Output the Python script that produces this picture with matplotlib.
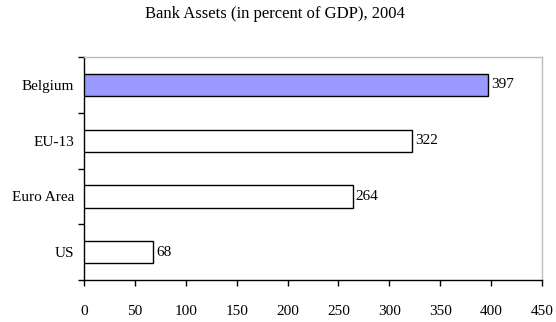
import matplotlib
matplotlib.use("Agg")
import matplotlib.pyplot as plt
import numpy as np

categories = ["US", "Euro Area", "EU-13", "Belgium"]
values = [68, 264, 322, 397]
colors = ["white", "white", "white", "#9999FF"]
xticks = [0, 50, 100, 150, 200, 250, 300, 350, 400, 450]
title = "Bank Assets (in percent of GDP), 2004"

plt.rcParams['font.family'] = ['Liberation Serif', 'DejaVu Serif']

fig = plt.figure(figsize=(5.56, 3.22), dpi=100)
ax = fig.add_axes([0.151, 0.130, 0.824, 0.693])

y = np.arange(len(categories))
ax.barh(y, values, height=0.4, color=colors, edgecolor="black", linewidth=1.0, zorder=3)
for yi, v in zip(y, values):
    ax.text(v + 3, yi, f"{v}", va="center", ha="left", fontsize=11)

ax.set_xlim(0, 450)
ax.set_ylim(-0.5, len(categories) - 0.5)
ax.set_xticks(xticks)
ax.set_xticklabels([str(t) for t in xticks], fontsize=11)
ax.set_yticks(np.arange(-0.5, len(categories), 1.0))
ax.set_yticklabels([])
ax.set_yticks(y, minor=True)
ax.set_yticklabels(categories, minor=True, fontsize=11)
ax.tick_params(axis="y", which="major", direction="out", length=4, width=1)
ax.tick_params(axis="y", which="minor", length=0, pad=7)
ax.tick_params(axis="x", direction="out", length=4, width=1, pad=14)

for s in ["left", "bottom"]:
    ax.spines[s].set_color("black")
    ax.spines[s].set_linewidth(1.0)
for s in ["top", "right"]:
    ax.spines[s].set_color("#BBBBBB")
    ax.spines[s].set_linewidth(1.0)

fig.text(0.495, 0.957, title, ha="center", va="center", fontsize=12)

fig.savefig("out.png", dpi=100)
